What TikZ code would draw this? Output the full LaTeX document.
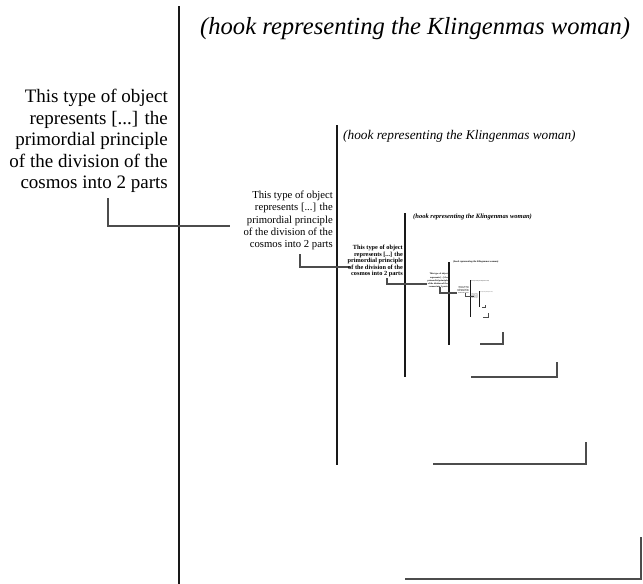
\documentclass[tikz,border=0pt]{standalone}
\usepackage{fontspec}
\setmainfont{Liberation Serif}
\newcommand\objtext{This type of object\\represents [...] the\\primordial principle\\of the division of the\\cosmos into 2 parts}

\begin{document}
\begin{tikzpicture}[x=1pt,y=-1pt,
    stem/.style={line width=#1,draw=black!90},
    hookline/.style={line width=#1,draw=black!70},
    hooktitle/.style 2 args={font=\fontsize{#1}{#1}\selectfont\itshape#2,anchor=west,inner sep=0},
    hooktext/.style n args={3}{font=\fontsize{#1}{#2}\selectfont#3,align=right,anchor=north east,inner sep=0}]
    \path[use as bounding box,fill=white] (0,0) rectangle (643,584);
    % outermost picture
    \coordinate (v0t) at (179,6);
    \coordinate (v0b) at (179,584);
    \node[hooktitle={24.6}{}] (title0) at (200,29) {(hook representing the Klingenmas woman)};
    \node[hooktext={19}{21.5}{}] (text0) at (168,89) {\objtext};
    \coordinate (h0a) at (108,198);
    \coordinate (h0b) at (230,226);
    \coordinate (b0a) at (405,579);
    \coordinate (b0b) at (641,537);
    \draw[stem=2.5pt] (v0t) -- (v0b);
    \draw[hookline=1.6pt] (h0a) |- (h0b) (b0a) -| (b0b);
    % level 1
    \coordinate (v1t) at (337,125);
    \coordinate (v1b) at (337,465);
    \node[hooktitle={13.3}{}] (title1) at (343,136) {(hook representing the Klingenmas woman)};
    \node[hooktext={10.7}{12.25}{}] (text1) at (333,191) {\objtext};
    \coordinate (h1a) at (300,254);
    \coordinate (h1b) at (350,267);
    \coordinate (b1a) at (433,464);
    \coordinate (b1b) at (586,442);
    \draw[stem=1.5pt] (v1t) -- (v1b);
    \draw[hookline=1.5pt] (h1a) |- (h1b) (b1a) -| (b1b);
    % level 2
    \coordinate (v2t) at (405,213);
    \coordinate (v2b) at (405,377);
    \node[hooktitle={6.55}{\bfseries}] (title2) at (413,217) {(hook representing the Klingenmas woman)};
    \node[hooktext={6.3}{6.5}{\bfseries}] (text2) at (403,245) {\objtext};
    \coordinate (h2a) at (387,278);
    \coordinate (h2b) at (427,284);
    \coordinate (b2a) at (471,377);
    \coordinate (b2b) at (557,362);
    \draw[stem=1.3pt] (v2t) -- (v2b);
    \draw[hookline=1.3pt] (h2a) |- (h2b) (b2a) -| (b2b);
    % level 3
    \coordinate (v3t) at (449,262);
    \coordinate (v3b) at (449,345);
    \node[hooktitle={2.5}{\bfseries}] (title3) at (453,262) {(hook representing the Klingenmas woman)};
    \node[hooktext={2.3}{3.25}{\bfseries}] (text3) at (448,273) {\objtext};
    \coordinate (h3a) at (440,287);
    \coordinate (h3b) at (457,293);
    \coordinate (b3a) at (480,344);
    \coordinate (b3b) at (503,332);
    \draw[stem=1.1pt] (v3t) -- (v3b);
    \draw[hookline=1.1pt] (h3a) |- (h3b) (b3a) -| (b3b);
    % level 4
    \coordinate (v4t) at (470,280);
    \coordinate (v4b) at (470,317);
    \node[hooktitle={1}{\bfseries}] (title4) at (471,281) {(hook representing the Klingenmas woman)};
    \node[hooktext={1.3}{1.5}{\bfseries}] (text4) at (469,286) {\objtext};
    \coordinate (h4a) at (465,293);
    \coordinate (h4b) at (474,296);
    \coordinate (b4a) at (483,317);
    \coordinate (b4b) at (488,313);
    \draw[stem=1pt] (v4t) -- (v4b);
    \draw[hookline=0.9pt] (h4a) |- (h4b) (b4a) -| (b4b);
    % level 5
    \coordinate (v5t) at (479,291);
    \coordinate (v5b) at (479,307);
    \node[hooktitle={0.7}{\bfseries}] (title5) at (480,292) {(hook representing the Klingenmas woman)};
    \node[hooktext={0.8}{0.9}{\bfseries}] (text5) at (478,294) {\objtext};
    \coordinate (b5a) at (482,307);
    \coordinate (b5b) at (485,305);
    \draw[stem=0.9pt] (v5t) -- (v5b);
    \draw[hookline=0.7pt] (b5a) -| (b5b);
\end{tikzpicture}
\end{document}
